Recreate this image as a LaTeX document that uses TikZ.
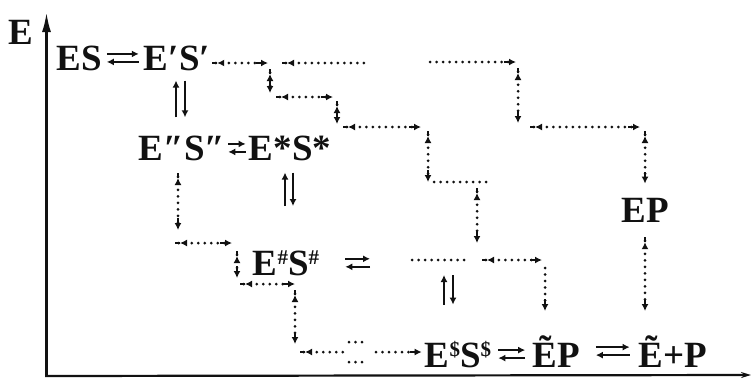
\documentclass[tikz,border=0pt]{standalone}
\usepackage{fontspec}
\setmainfont{Liberation Serif}
\usepackage{tikz}
\usetikzlibrary{arrows.meta, calc}
\definecolor{inkBlack}{HTML}{111111}
\newcommand{\upsym}[1]{\raisebox{11pt}{\fontsize{21}{21}\selectfont #1}}
\tikzset{
  PinEnd/.tip={Rectangle[length=5pt, width=2.8pt] Latex[length=7pt, width=7pt]},
  PinStart/.tip={Latex[length=7pt, width=7pt] Rectangle[length=5pt, width=2.8pt]},
  species/.style={
    inner sep=0pt, anchor=base, inkBlack,
    font=\fontsize{37}{40}\selectfont\bfseries
  },
  eqarrow/.style={
    -{Latex[length=7pt, width=7pt]},
    inkBlack, line width=2.2pt
  },
  walk/.style={
    inkBlack, line width=3pt, line cap=round,
    dash pattern=on 0pt off 6.5pt
  },
  walkboth/.style={walk, {PinStart}-{PinEnd}},
  walkin/.style={walk, {PinStart}-},
  walkout/.style={walk, -{PinEnd}},
  axis/.style={inkBlack, line width=2.6pt}
}

\begin{document}
\begin{tikzpicture}[x=1pt, y=-1pt]
  \useasboundingbox (0,0) rectangle (751,378);
  \coordinate (axo) at (46.5,376);
  \coordinate (axtop) at (46.5,12);
  \coordinate (axend) at (751,375);
  \draw[axis, -{Latex[length=20pt, width=9pt]}] (axo) -- (axtop);
  \draw[axis, line width=2.2pt, -{Stealth[length=10pt, width=6pt]}] ([xshift=-1.3pt]axo) -- (axend);
  \node[species] (elabel) at (21,44) {E};

  \node[species] (es) at (79,70) {ES};
  \node[species] (es1) at (177,70) {E′S′};
  \node[species] (es2) at (182,160) {E″S″};
  \node[species] (esx) at (290,160) {E*S*};
  \node[species] (esh) at (286,275) {E\upsym{\#}S\upsym{\#}};
  \node[species] (ep) at (645,222) {EP};
  \node[species] (ess) at (458,367) {E\upsym{\$}S\upsym{\$}};
  \node[species] (ept) at (556,367) {ẼP};
  \node[species] (efree) at (673,367) {Ẽ+P};

  \coordinate (a2) at (268,63);
  \coordinate (b1) at (270,69);  \coordinate (b2) at (270,93);
  \coordinate (b3) at (276,97);  \coordinate (b4) at (333,97);
  \coordinate (c1) at (337,101); \coordinate (c2) at (337,124);
  \coordinate (c3) at (343,127); \coordinate (c4) at (421,127);
  \coordinate (d1) at (428,131); \coordinate (d2) at (428,182);
  \coordinate (d3) at (434,182); \coordinate (d4) at (488,182);
  \coordinate (e1) at (477,188); \coordinate (e2) at (477,243);
  \coordinate (lvl) at (412,260); \coordinate (e4) at (467,260);
  \coordinate (e5) at (482,260); \coordinate (e6) at (542,260);
  \coordinate (f1) at (545,268); \coordinate (f2) at (545,311);
  \coordinate (g1) at (282,63);  \coordinate (g2) at (370,63);
  \coordinate (g3) at (430,62);  \coordinate (g4) at (516,62);
  \coordinate (h1) at (518,68);  \coordinate (h2) at (518,123);
  \coordinate (h3) at (530,127); \coordinate (h4) at (640,127);
  \coordinate (h5) at (645,131); \coordinate (h6) at (645,311);
  \coordinate (k1) at (178,173); \coordinate (k2) at (178,230);
  \coordinate (k3) at (175,243); \coordinate (k4) at (232,243);
  \coordinate (k5) at (237,251); \coordinate (k6) at (237,278);
  \coordinate (k7) at (240,284); \coordinate (k8) at (295,284);
  \coordinate (k9) at (295,290); \coordinate (k10) at (295,344);
  \coordinate (m1) at (300,352); \coordinate (m2) at (343,352);
  \coordinate (m3) at (349,342); \coordinate (m4) at (362,342);
  \coordinate (m5) at (349,362); \coordinate (m6) at (362,362);
  \coordinate (m7) at (376,352);

  \draw[eqarrow, shorten <=5pt, shorten >=5pt] ([yshift=4pt]es.east) -- ([yshift=4pt]es.east -| es1.west);
  \draw[eqarrow, shorten <=5pt, shorten >=5pt] ([yshift=-4pt]es.east -| es1.west) -- ([yshift=-4pt]es.east);
  \draw[eqarrow, shorten <=3pt, shorten >=3pt] ([yshift=4pt]es2.east) -- ([yshift=4pt]es2.east -| esx.west);
  \draw[eqarrow, shorten <=3pt, shorten >=3pt] ([yshift=-4pt]es2.east -| esx.west) -- ([yshift=-4pt]es2.east);
  \draw[eqarrow, shorten <=26pt, shorten >=42pt] ([yshift=4pt]esh.east) -- ([yshift=4pt]esh.east -| lvl);
  \draw[eqarrow, shorten <=42pt, shorten >=26pt] ([yshift=-4pt]esh.east -| lvl) -- ([yshift=-4pt]esh.east);
  \draw[eqarrow, shorten <=7pt, shorten >=7pt] ([yshift=4pt]ess.east) -- ([yshift=4pt]ess.east -| ept.west);
  \draw[eqarrow, shorten <=7pt, shorten >=7pt] ([yshift=-4pt]ess.east -| ept.west) -- ([yshift=-4pt]ess.east);
  \draw[eqarrow, shorten <=16pt, shorten >=9pt] ([yshift=4pt]ept.east) -- ([yshift=4pt]ept.east -| efree.west);
  \draw[eqarrow, shorten <=9pt, shorten >=16pt] ([yshift=-4pt]ept.east -| efree.west) -- ([yshift=-4pt]ept.east);

  \draw[eqarrow, shorten <=18pt, shorten >=10pt] ([xshift=-6pt]es2.north) -- ([xshift=-6pt]es2.north |- es1.south);
  \draw[eqarrow, shorten <=10pt, shorten >=18pt] ([xshift=3pt]es2.north |- es1.south) -- ([xshift=3pt]es2.north);
  \draw[eqarrow, shorten <=44pt, shorten >=12pt] ([xshift=-5pt]esx.south |- esh.north) -- ([xshift=-5pt]esx.south);
  \draw[eqarrow, shorten <=12pt, shorten >=44pt] ([xshift=3pt]esx.south) -- ([xshift=3pt]esx.south |- esh.north);
  \draw[eqarrow, shorten <=36pt, shorten >=15pt] ([xshift=-14pt]ess.north) -- ([xshift=-14pt]ess.north |- lvl);
  \draw[eqarrow, shorten <=15pt, shorten >=36pt] ([xshift=-5pt]ess.north |- lvl) -- ([xshift=-5pt]ess.north);

  \foreach \a/\b in {b1/b2, b3/b4, c1/c2, c3/c4, d1/d2, e1/e2, e5/e6, h1/h2, h3/h4, k1/k2, k3/k4, k5/k6, k7/k8, k9/k10}
    \draw[walkboth] (\a) -- (\b);
  \foreach \a/\b in {d3/d4, lvl/e4, m3/m4, m5/m6}
    \draw[walk] (\a) -- (\b);
  \draw[walkboth, shorten <=2pt] (es1.east |- a2) -- (a2);
  \draw[walkin] (g1) -- (g2);
  \draw[walkin] (m1) -- (m2);
  \draw[walkout] (g3) -- (g4);
  \draw[walkout] (f1) -- (f2);
  \draw[walkout, shorten >=3pt] (m7) -- (m7 -| ess.west);
  \draw[walkboth, shorten >=14pt] (h5) -- (ep.north);
  \draw[walkboth, shorten <=15pt] (ep.south) -- (h6);
\end{tikzpicture}
\end{document}
